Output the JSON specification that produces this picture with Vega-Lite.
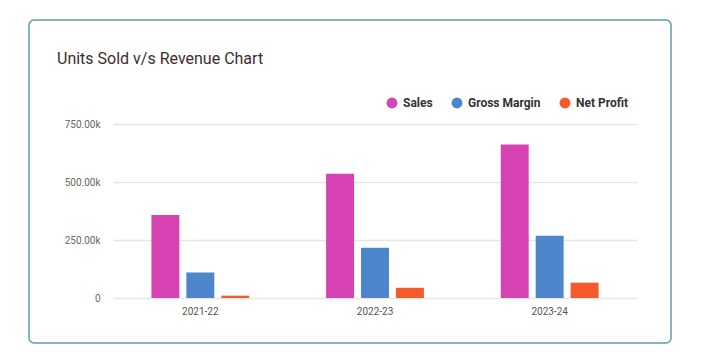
{
  "$schema": "https://vega.github.io/schema/vega-lite/v6.json",
  "width": 642,
  "height": 323,
  "autosize": {"type": "none"},
  "padding": {"left": 29, "top": 20, "right": 30, "bottom": 20},
  "background": "white",
  "config": {
    "font": "Roboto",
    "view": {"stroke": "#5e9cab", "strokeWidth": 1.5, "cornerRadius": 5, "fill": "white"}
  },
  "title": {
    "text": "Units Sold v/s Revenue Chart",
    "anchor": "start",
    "frame": "group",
    "orient": "top",
    "offset": 0,
    "baseline": "alphabetic",
    "dx": 28,
    "dy": 60,
    "fontSize": 16,
    "fontWeight": "normal",
    "font": "Roboto",
    "color": "#3d2d2d"
  },
  "data": {
    "values": [
      {"year": "2021-22", "metric": "Sales", "value": 358000},
      {"year": "2021-22", "metric": "Gross Margin", "value": 110000},
      {"year": "2021-22", "metric": "Net Profit", "value": 10000},
      {"year": "2022-23", "metric": "Sales", "value": 536000},
      {"year": "2022-23", "metric": "Gross Margin", "value": 217000},
      {"year": "2022-23", "metric": "Net Profit", "value": 44000},
      {"year": "2023-24", "metric": "Sales", "value": 662000},
      {"year": "2023-24", "metric": "Gross Margin", "value": 268000},
      {"year": "2023-24", "metric": "Net Profit", "value": 66000}
    ]
  },
  "mark": {"type": "bar"},
  "encoding": {
    "x": {
      "field": "year",
      "type": "nominal",
      "sort": null,
      "scale": {"range": [84, 608], "paddingInner": 0.44, "paddingOuter": 0.22},
      "axis": {
        "title": null,
        "domain": false,
        "ticks": false,
        "labelAngle": 0,
        "labelPadding": 8,
        "labelFontSize": 10,
        "labelColor": "#555555",
        "offset": -45,
        "grid": false
      }
    },
    "xOffset": {
      "field": "metric",
      "sort": ["Sales", "Gross Margin", "Net Profit"],
      "scale": {"paddingInner": 0.2, "paddingOuter": 0}
    },
    "y": {
      "field": "value",
      "type": "quantitative",
      "scale": {"domain": [0, 750000], "range": [278, 104], "nice": false},
      "axis": {
        "title": null,
        "values": [0, 250000, 500000, 750000],
        "labelExpr": "datum.value == 0 ? '0' : format(datum.value / 1000, '.2f') + 'k'",
        "domain": false,
        "ticks": false,
        "grid": true,
        "gridColor": "#e6e6e6",
        "gridWidth": 1.5,
        "labelPadding": 13,
        "labelFontSize": 10,
        "labelColor": "#666666",
        "offset": -84
      }
    },
    "color": {
      "field": "metric",
      "type": "nominal",
      "scale": {
        "domain": ["Sales", "Gross Margin", "Net Profit"],
        "range": ["#d743b3", "#4d86cb", "#f65a2a"]
      },
      "legend": {
        "title": null,
        "orient": "none",
        "legendX": 357,
        "legendY": 77,
        "direction": "horizontal",
        "symbolType": "circle",
        "symbolSize": 120,
        "symbolStrokeWidth": 0,
        "labelFontSize": 12,
        "labelFontWeight": "bold",
        "labelColor": "#333333",
        "labelOffset": 5,
        "columnPadding": 18
      }
    }
  }
}
